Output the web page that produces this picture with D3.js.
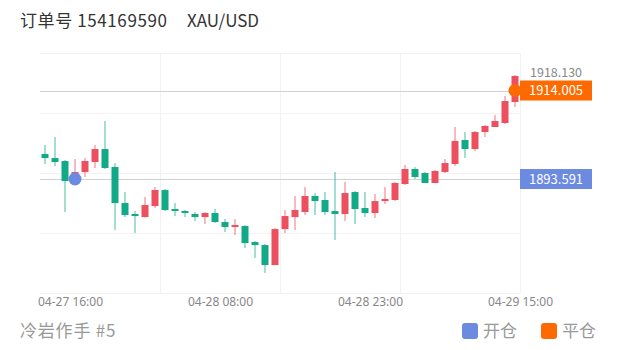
<!DOCTYPE html>
<html>
<head>
<meta charset="utf-8">
<script src="https://cdn.jsdelivr.net/npm/d3@7/dist/d3.min.js"></script>
<style>
  html, body { margin: 0; padding: 0; background: #fff; }
  svg { display: block; font-family: "Noto Sans CJK SC", "Noto Sans", sans-serif; }
</style>
</head>
<body>
<svg id="chart" width="620" height="350"></svg>
<script>
// ---- data ----
const titleOrder = "订单号 154169590";
const titleSymbol = "XAU/USD";
const footerText = "冷岩作手 #5";
const opens  = [1899.36,1898.43,1897.74,1893.36,1895.20,1897.51,1900.51,1896.36,1888.05,1885.52,1884.82,1887.36,1891.05,1886.67,1886.21,1885.52,1884.82,1885.75,1883.67,1882.52,1882.75,1879.06,1878.36,1873.75,1882.05,1884.82,1885.98,1889.67,1888.75,1886.21,1885.52,1890.59,1886.90,1885.75,1888.51,1888.75,1892.44,1895.90,1894.97,1892.67,1895.20,1897.05,1902.59,1900.51,1904.43,1905.59,1906.51,1911.35];
const closes = [1898.43,1897.51,1893.13,1895.20,1897.74,1900.51,1896.13,1888.05,1885.28,1885.05,1887.59,1891.05,1886.44,1886.21,1885.75,1884.82,1885.75,1883.67,1882.52,1882.98,1878.83,1878.36,1873.75,1882.05,1885.05,1886.44,1889.67,1888.51,1885.98,1885.52,1890.36,1886.67,1885.75,1888.51,1888.98,1892.67,1895.90,1894.05,1892.67,1895.44,1897.28,1902.36,1900.51,1904.43,1905.82,1906.97,1911.58,1917.35];
const highs  = [1901.43,1903.28,1897.97,1898.20,1898.43,1901.43,1906.97,1897.28,1890.59,1886.21,1889.44,1891.74,1891.28,1888.05,1886.44,1885.98,1885.98,1886.67,1884.36,1884.36,1882.98,1879.29,1878.59,1882.28,1886.44,1889.67,1891.74,1890.36,1890.59,1895.20,1892.90,1890.82,1890.59,1890.13,1891.74,1892.90,1896.82,1896.36,1895.20,1895.67,1898.20,1905.59,1904.43,1904.66,1906.05,1908.35,1912.74,1917.58];
const lows   = [1897.05,1896.59,1885.98,1893.13,1894.05,1896.13,1895.90,1881.82,1884.82,1881.13,1884.70,1886.90,1886.21,1885.05,1884.82,1883.90,1883.21,1883.44,1881.36,1880.67,1877.67,1875.36,1871.90,1873.75,1881.13,1881.82,1885.28,1885.28,1885.28,1879.52,1883.90,1883.21,1884.82,1884.59,1887.82,1888.51,1892.21,1893.59,1892.60,1892.60,1894.97,1896.59,1898.43,1900.05,1903.28,1905.59,1906.28,1910.20];
const tickIndex  = [3, 18, 33, 48];
const tickLabels = ["04-27 16:00", "04-28 08:00", "04-28 23:00", "04-29 15:00"];
const openIndex = 3,  openPrice = 1893.591;
const closeIndex = 47, closePrice = 1914.005;
const maxLabel = "1918.130", maxPrice = 1918.13;
const legendLabels = ["开仓", "平仓"];

// ---- styles ----
const UP = "#ec4f5e", DOWN = "#12aa86";
const BLUE = "#6c8ae0", ORANGE = "#ff6a00";

const svg = d3.select("#chart");
const N = opens.length;
const x = d3.scaleLinear().domain([0, N]).range([40, 520]);
const y = d3.scaleLinear().domain([1867.3, 1922.66]).range([293, 53]);

// grid
const gridY = d3.range(5).map(k => y.domain()[0] + k * (y.domain()[1] - y.domain()[0]) / 4);
svg.append("g").selectAll("line").data(gridY).join("line")
  .attr("x1", x(0)).attr("x2", x(N))
  .attr("y1", d => Math.round(y(d)) + 0.5).attr("y2", d => Math.round(y(d)) + 0.5)
  .attr("stroke", "#f2f2f2");
svg.append("g").selectAll("line").data(d3.range(12, N + 1, 12)).join("line")
  .attr("x1", d => x(d) + 0.5).attr("x2", d => x(d) + 0.5)
  .attr("y1", y.range()[1]).attr("y2", y.range()[0])
  .attr("stroke", "#f2f2f2");

// price lines
svg.append("g").selectAll("line").data([closePrice, openPrice]).join("line")
  .attr("x1", x(0)).attr("x2", x(N))
  .attr("y1", d => Math.round(y(d)) + 0.5).attr("y2", d => Math.round(y(d)) + 0.5)
  .attr("stroke", "#d2d2d2").attr("stroke-width", 1.2);

// candles
const data = d3.range(N).map(i => ({ i, o: opens[i], c: closes[i], h: highs[i], l: lows[i] }));
const g = svg.append("g");
g.selectAll("line.wick").data(data).join("line").attr("class", "wick")
  .attr("x1", d => x(d.i + 0.5)).attr("x2", d => x(d.i + 0.5))
  .attr("y1", d => y(d.h)).attr("y2", d => y(d.l))
  .attr("stroke", d => d.c >= d.o ? UP : DOWN).attr("stroke-width", 1.3)
  .attr("stroke-opacity", 0.6);
g.selectAll("rect.body").data(data).join("rect").attr("class", "body")
  .attr("x", d => x(d.i + 0.5) - 3.5).attr("width", 7)
  .attr("y", d => y(Math.max(d.o, d.c)))
  .attr("height", d => Math.max(1.5, Math.abs(y(d.o) - y(d.c))))
  .attr("fill", d => d.c >= d.o ? UP : DOWN);

// markers
svg.append("circle").attr("cx", x(openIndex + 0.5)).attr("cy", y(openPrice)).attr("r", 6.5).attr("fill", BLUE);
svg.append("circle").attr("cx", x(closeIndex + 0.5)).attr("cy", y(closePrice)).attr("r", 6.5).attr("fill", ORANGE);

// right labels
svg.append("text").attr("x", 530).attr("y", y(maxPrice)).attr("dy", "0.35em")
  .attr("font-size", 12.5).attr("fill", "#888").text(maxLabel);
const tags = [{ p: closePrice, c: ORANGE }, { p: openPrice, c: BLUE }];
const tg = svg.append("g").selectAll("g").data(tags).join("g")
  .attr("transform", d => `translate(520,${y(d.p)})`);
tg.append("rect").attr("x", 0).attr("y", -10).attr("width", 72).attr("height", 20).attr("fill", d => d.c);
tg.append("text").attr("x", 36).attr("y", 0).attr("dy", "0.35em").attr("text-anchor", "middle")
  .attr("font-size", 13).attr("fill", "#fff").text(d => d.p.toFixed(3));

// x axis
const axis = d3.axisBottom(x).tickValues(tickIndex).tickFormat((d, i) => tickLabels[i]).tickSize(0).tickPadding(0);
const ax = svg.append("g").attr("transform", "translate(0,297)").call(axis);
ax.select(".domain").remove();
ax.selectAll("text").attr("font-size", 12).attr("fill", "#888")
  .attr("font-family", "'Noto Sans', 'Noto Sans CJK SC', sans-serif").attr("dy", "0.71em");

// title
svg.append("text").attr("x", 20).attr("y", 21).attr("dy", "0.35em").attr("font-size", 17).attr("fill", "#333")
  .attr("letter-spacing", 0.6).text(titleOrder);
svg.append("text").attr("x", 187).attr("y", 21).attr("dy", "0.35em").attr("font-size", 17).attr("fill", "#333").text(titleSymbol);

// footer
svg.append("text").attr("x", 20).attr("y", 331).attr("dy", "0.35em").attr("font-size", 17).attr("fill", "#999")
  .attr("letter-spacing", 0.8).text(footerText);

// legend
const lg = svg.append("g").selectAll("g").data(legendLabels).join("g")
  .attr("transform", (d, i) => `translate(462 ${331}) translate(${i * 79},0)`);
lg.append("rect").attr("x", 0).attr("y", -8).attr("width", 16).attr("height", 16).attr("rx", 3)
  .attr("fill", (d, i) => i === 0 ? BLUE : ORANGE);
lg.append("text").attr("x", 21).attr("y", 0).attr("dy", "0.35em").attr("font-size", 17).attr("fill", "#999").text(d => d);
</script>
</body>
</html>
